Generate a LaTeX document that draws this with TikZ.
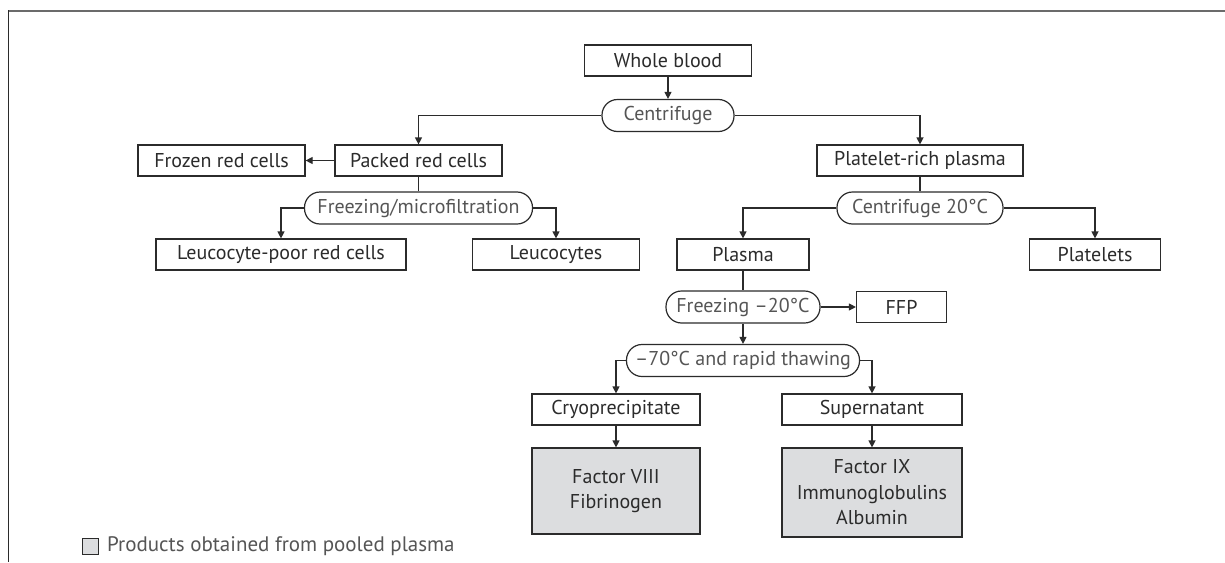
\documentclass[tikz,border=0pt]{standalone}
\usepackage{fontspec}
\setmainfont{PT Sans}
\usetikzlibrary{arrows.meta}
\definecolor{ink}{HTML}{2B2B2B}
\definecolor{pooled}{HTML}{DCDDDF}
\definecolor{framegray}{HTML}{6B6B6B}
\definecolor{steptext}{HTML}{555555}
\tikzset{
  box/.style={draw=ink, line width=1.2pt, fill=white, minimum height=31pt, inner sep=0pt,
    text=ink, font=\fontsize{20}{25.5}\selectfont},
  pill/.style={draw=ink, line width=1.2pt, fill=white, rounded corners=15.5pt, minimum height=32pt,
    inner sep=0pt, text=steptext, font=\fontsize{20}{25}\selectfont},
  pooledbox/.style={box, fill=pooled, align=center},
  link/.style={draw=ink, line width=1.2pt},
  flow/.style={link, -{Triangle[length=7pt,width=7pt]}},
}

\begin{document}
\begin{tikzpicture}[x=1pt, y=-1pt]
\useasboundingbox (0,0) rectangle (1225,562);
\draw[framegray, line width=2pt] (8.5,11) -- (1225,11);
\draw[ink, line width=1.5pt] (8.5,10) -- (8.5,562);

\node[box, minimum width=167] (whole) at (668,60.5) {Whole blood};
\node[pill, minimum width=132] (cent) at (668,115.5) {Centrifuge};

\node[box, minimum width=167] (packed) at (418.5,160.5) {Packed red cells};
\node[box, minimum width=167] (frozen) at (221.5,160.5) {Frozen red cells};
\node[pill, minimum width=228] (fm) at (418.5,208) {Freezing/microfiltration};
\node[box, minimum width=250] (lpr) at (281,254.5) {Leucocyte-poor red cells};
\node[box, minimum width=167] (leuco) at (556,254.5) {Leucocytes};

\node[box, minimum width=206] (prp) at (920,160.5) {Platelet-rich plasma};
\node[pill, minimum width=166] (c20) at (920,208) {Centrifuge 20°C};
\node[box, minimum width=132] (plasma) at (743,254.5) {Plasma};
\node[box, minimum width=131] (plate) at (1095,254.5) {Platelets};

\node[pill, minimum width=154] (frz) at (743,307) {Freezing –20°C};
\node[box, minimum width=90] (ffp) at (901.5,307) {FFP};
\node[pill, minimum width=233] (m70) at (743,360.5) {–70°C and rapid thawing};
\node[box, minimum width=168] (cryo) at (616,409.5) {Cryoprecipitate};
\node[box, minimum width=180] (super) at (872,409.5) {Supernatant};
\node[pooledbox, minimum width=168, minimum height=86] (f8) at (616,491) {Factor VIII\\Fibrinogen};
\node[pooledbox, minimum width=180, minimum height=89] (f9) at (872,492.5) {Factor IX\\Immunoglobulins\\Albumin};

\node[draw=ink, line width=1pt, fill=pooled, minimum size=16pt, inner sep=0pt] (key) at (90.5,546) {};
\node[anchor=west, inner sep=0pt, text=steptext, font=\fontsize{21}{25}\selectfont] (keytext) at ([xshift=8pt]key.east) {Products obtained from pooled plasma};

\foreach \a/\b in {whole/cent, packed/frozen, frz/m70, frz/ffp, cryo/f8, super/f9}
  \draw[flow] (\a) -- (\b);
\foreach \a/\b in {packed/fm, prp/c20, plasma/frz}
  \draw[link] (\a) -- (\b);
\foreach \p/\l/\r in {cent/packed/prp, fm/lpr/leuco, c20/plasma/plate, m70/cryo/super}{
  \draw[flow] (\p.west) -| (\l.north);
  \draw[flow] (\p.east) -| (\r.north);
}
\end{tikzpicture}
\end{document}
